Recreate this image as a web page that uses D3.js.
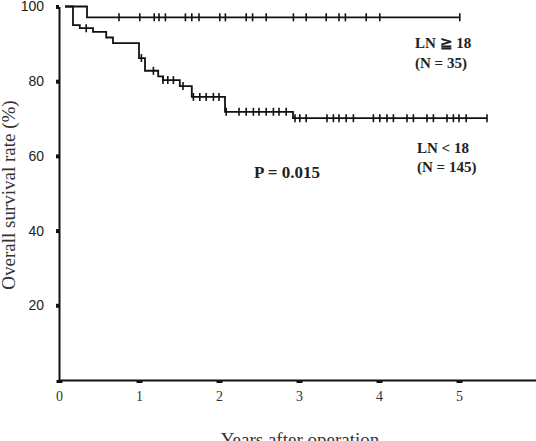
<!DOCTYPE html>
<html lang="en">
<head>
<meta charset="utf-8">
<script src="https://cdnjs.cloudflare.com/ajax/libs/d3/7.8.5/d3.min.js"></script>
<style>
  body { margin: 0; background: #fff; }
  svg { display: block; }
</style>
</head>
<body>
<svg id="chart" width="536" height="441"></svg>
<script>
// LN >= 18 group (N = 35)
var hiStart = 0.075, hiEnd = 5.01
var hiTimes = [0.35]
var hiSurv = [97.1]
var hiCensor = [0.75, 1.01, 1.19, 1.25, 1.33, 1.58, 1.66, 1.75, 2.01, 2.08,
                2.34, 2.42, 2.59, 2.93, 3.09, 3.34, 3.50, 3.58, 3.84, 4.01, 5.01]

// LN < 18 group (N = 145)
var loStart = 0.075, loEnd = 5.35
var loTimes = [0.175, 0.26, 0.425, 0.59, 0.675, 1.00, 1.075, 1.24, 1.30, 1.51, 1.66, 2.075, 2.925]
var loSurv  = [95.0, 94.2, 93.2, 91.7, 90.2, 86.2, 82.8, 81.3, 80.3, 78.7, 75.8, 71.8, 70.1]
var loCensor = [0.34, 1.03, 1.18, 1.30, 1.36, 1.43, 1.55, 1.68, 1.76, 1.84, 1.93, 2.00,
                2.09, 2.25, 2.34, 2.43, 2.50, 2.59, 2.68, 2.75, 2.84, 2.95, 3.01, 3.09,
                3.35, 3.43, 3.50, 3.59, 3.68, 3.93, 4.01, 4.10, 4.18, 4.35, 4.43, 4.60,
                4.68, 4.85, 4.93, 5.00, 5.09, 5.35]

var yTicks = [20, 40, 60, 80, 100]
var xTicks = [0, 1, 2, 3, 4, 5]

var svg = d3.select("#chart")

var x = d3.scaleLinear().domain([0, 5.9625]).range([59, 536])
var y = d3.scaleLinear().domain([0, 100]).range([380, 6.5])

// axes
var yAxis = svg.append("g")
    .attr("transform", "translate(59,0)")
    .call(d3.axisLeft(y).tickValues(yTicks).tickSize(3).tickSizeOuter(0).tickPadding(12))
yAxis.select(".domain").attr("stroke", "#111").attr("stroke-width", 2)
yAxis.selectAll(".tick line").attr("stroke", "#111").attr("stroke-width", 4)
yAxis.selectAll(".tick text")
    .attr("font-family", "'Liberation Sans', Arial, sans-serif")
    .attr("font-size", 14)
    .attr("fill", "#222")

var xAxis = svg.append("g")
    .attr("transform", "translate(0,380)")
    .call(d3.axisBottom(x).tickValues(xTicks).tickFormat(d3.format("d"))
        .tickSize(3).tickSizeOuter(0).tickPadding(8))
xAxis.select(".domain").attr("stroke", "#111").attr("stroke-width", 2)
xAxis.selectAll(".tick line").attr("stroke", "#111").attr("stroke-width", 6)
xAxis.selectAll(".tick text")
    .attr("font-family", "'Liberation Serif', 'Times New Roman', serif")
    .attr("font-size", 14)
    .attr("fill", "#333")

// axis titles
svg.append("text")
    .attr("transform", "translate(15,195) rotate(-90)")
    .attr("text-anchor", "middle")
    .attr("font-family", "'Liberation Serif', 'Times New Roman', serif")
    .attr("font-size", 19)
    .attr("fill", "#333")
    .text("Overall survival rate (%)")

svg.append("text")
    .attr("x", 300)
    .attr("y", 446)
    .attr("text-anchor", "middle")
    .attr("font-family", "'Liberation Serif', 'Times New Roman', serif")
    .attr("font-size", 19)
    .attr("fill", "#333")
    .text("Years after operation")

// survival curves
var line = d3.line()
    .x(function(d) { return x(d[0]) })
    .y(function(d) { return y(d[1]) })
    .curve(d3.curveStepAfter)

function stepPoints(start, end, times, surv) {
    var pts = [[start, 100]]
    times.forEach(function(t, i) { pts.push([t, surv[i]]) })
    pts.push([end, surv[surv.length - 1]])
    return pts
}

function survAt(t, times, surv) {
    var s = 100
    times.forEach(function(tt, i) { if (tt <= t) s = surv[i] })
    return s
}

function drawGroup(start, end, times, surv, censor) {
    svg.append("path")
        .attr("d", line(stepPoints(start, end, times, surv)))
        .attr("fill", "none")
        .attr("stroke", "#111")
        .attr("stroke-width", 1.8)

    svg.append("g").selectAll("line")
        .data(censor)
        .enter().append("line")
        .attr("x1", function(d) { return x(d) })
        .attr("x2", function(d) { return x(d) })
        .attr("y1", function(d) { return y(survAt(d, times, surv)) - 4 })
        .attr("y2", function(d) { return y(survAt(d, times, surv)) + 4 })
        .attr("stroke", "#111")
        .attr("stroke-width", 1.6)
}

drawGroup(hiStart, hiEnd, hiTimes, hiSurv, hiCensor)
drawGroup(loStart, loEnd, loTimes, loSurv, loCensor)

// annotations
var bold = function(sel, tx, ty, size, txt) {
    sel.append("text")
        .attr("x", tx)
        .attr("y", ty)
        .attr("font-family", "'Liberation Serif', 'Times New Roman', serif")
        .attr("font-weight", "bold")
        .attr("font-size", size)
        .attr("fill", "#222")
        .text(txt)
}
bold(svg, 415, 48, 15, "LN \u2267 18")
bold(svg, 415, 68, 15, "(N = 35)")
bold(svg, 417, 153, 15, "LN < 18")
bold(svg, 417, 172, 15, "(N = 145)")
bold(svg, 254, 178, 17, "P = 0.015")
</script>
</body>
</html>
